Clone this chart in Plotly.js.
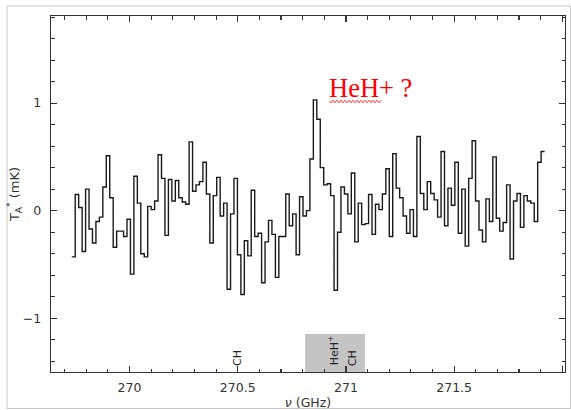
<!DOCTYPE html>
<html>
<head>
<meta charset="utf-8">
<script src="https://cdn.plot.ly/plotly-3.0.1.min.js"></script>
<style>
  html, body { margin: 0; padding: 0; background: #fff; }
  #chart { width: 571px; height: 410px; }
</style>
</head>
<body>
<div id="chart"></div>
<script>
// Spectrum: antenna temperature per channel (mK), left to right
const freqStartGHz = 269.733;   // left edge of first channel
const chanWidthGHz = 0.01595;   // channel width
const tA = [
  -0.43, 0.15, 0.03, -0.38, 0.20, -0.17, -0.30, -0.10, -0.06, 0.22,
  0.51, 0.12, -0.34, -0.19, -0.19, -0.24, -0.08, -0.59, 0.32, 0.07,
  -0.40, -0.43, 0.04, 0.01, 0.09, 0.52, 0.30, -0.23, 0.29, 0.09,
  0.28, 0.12, 0.08, 0.06, 0.64, 0.18, 0.24, 0.27, 0.45, 0.155,
  -0.30, 0.14, 0.31, -0.05, 0.07, -0.73, -0.03, 0.30, -0.41, -0.78,
  -0.28, -0.42, 0.19, -0.24, -0.21, -0.67, -0.29, -0.09, -0.22, -0.62,
  -0.24, -0.24, 0.155, -0.14, -0.03, -0.41, 0.13, -0.05, 0.00, 0.48,
  1.03, 0.85, 0.40, 0.24, 0.25, 0.14, -0.74, -0.20, 0.22, 0.155,
  -0.03, 0.35, -0.29, 0.07, -0.13, -0.12, 0.15, -0.22, 0.06, 0.01,
  0.155, 0.39, -0.24, 0.53, 0.21, 0.12, -0.05, -0.21, 0.01, -0.24,
  0.69, 0.16, 0.01, 0.27, 0.16, 0.10, -0.06, 0.55, -0.14, 0.21,
  0.05, 0.45, -0.21, 0.20, -0.33, 0.30, 0.65, 0.09, -0.18, -0.29,
  0.11, -0.10, 0.50, -0.07, -0.19, -0.11, 0.24, -0.45, 0.09, 0.16,
  -0.155, 0.14, 0.09, 0.07, -0.10, 0.45, 0.55
];
// Line identifications (GHz) and labels
const lineFreqs = [270.499, 270.942, 271.031];
const lineLabels = ["CH", "HeH<sup>+</sup>", "CH"];
// Shaded window (GHz)
const bandGHz = [270.811, 271.088];
const bandTop = -1.147;
const xTickVals = [270, 270.5, 271, 271.5, 272];
const xTickText = ["270", "270.5", "271", "271.5", "272"];
const yTickVals = [-1, 0, 1];
const yTickText = ["\u22121", "0", "1"];

// channel edges for a histogram-style step line
const xs = [], ys = [];
for (let i = 0; i <= tA.length; i++) {
  xs.push(freqStartGHz + i * chanWidthGHz);
  ys.push(tA[Math.min(i, tA.length - 1)]);
}

const W = 571, H = 410;
const m = {l: 51, r: 6, t: 16, b: 38};
const pw = W - m.l - m.r, ph = H - m.t - m.b;
const px = v => (v - m.l) / pw;
const py = v => (H - m.b - v) / ph;

// wavy underline under the red note
let squig = "M" + px(329).toFixed(4) + "," + py(101.5).toFixed(4);
for (let k = 1, xx = 331; xx <= 381; xx += 2, k++) {
  squig += " L" + px(xx).toFixed(4) + "," + py(101.5 + (k % 2 ? 1.3 : -1.3)).toFixed(4);
}

const axisCommon = {
  showline: true, linecolor: "#333", linewidth: 1.4, mirror: "allticks",
  ticks: "inside", ticklen: 6, tickwidth: 1.2, tickcolor: "#333",
  showgrid: false, zeroline: false,
  tickfont: {family: "DejaVu Sans", size: 12.5, color: "#333"}
};

const data = [{
  x: xs, y: ys, type: "scatter", mode: "lines",
  line: {shape: "hv", color: "#1a1a1a", width: 1.4},
  hoverinfo: "skip"
}];

const annotations = lineFreqs.map((f, i) => ({
  x: f, xref: "x", y: i === 1 ? py(350) : py(358.5), yref: "paper",
  text: lineLabels[i], showarrow: false, textangle: -90,
  font: {family: "DejaVu Sans", size: 11, color: "#222"},
  xanchor: "center", yanchor: "middle"
}));
annotations.push({
  x: px(327), xref: "paper", y: py(87.5), yref: "paper",
  text: "HeH+ ?", showarrow: false, xanchor: "left", yanchor: "middle",
  font: {family: "Liberation Serif", size: 26.5, color: "#ff0000"}
});

const layout = {
  width: W, height: H, margin: m,
  paper_bgcolor: "#fff", plot_bgcolor: "#fff",
  showlegend: false,
  xaxis: Object.assign({}, axisCommon, {
    range: [269.637, 272.0125],
    tickvals: xTickVals, ticktext: xTickText,
    ticklabelstandoff: 4,
    minor: {dtick: 0.1, tick0: 270, ticks: "inside", ticklen: 3.5, tickwidth: 1.1, tickcolor: "#333"},
    title: {text: "<i>\u03bd</i> (GHz)", font: {family: "DejaVu Sans", size: 12.5, color: "#333"}, standoff: 6}
  }),
  yaxis: Object.assign({}, axisCommon, {
    range: [-1.5, 1.81],
    tickvals: yTickVals, ticktext: yTickText,
    ticklabelstandoff: 6,
    minor: {dtick: 0.2, tick0: 0, ticks: "inside", ticklen: 3.5, tickwidth: 1.1, tickcolor: "#333"},
    title: {text: "T<sub>A</sub><sup>*</sup> (mK)", font: {family: "DejaVu Sans", size: 13, color: "#333"}, standoff: 0}
  }),
  shapes: [
    {type: "rect", xref: "x", yref: "y", x0: bandGHz[0], x1: bandGHz[1], y0: -1.5, y1: bandTop,
     fillcolor: "#c4c4c4", line: {width: 0}, layer: "below"},
    {type: "rect", xref: "paper", yref: "paper", x0: px(7), x1: px(570.5), y0: py(408.5), y1: py(6),
     fillcolor: "rgba(0,0,0,0)", line: {color: "#c8c8c8", width: 1}, layer: "below"},
    {type: "path", xref: "paper", yref: "paper", path: squig, line: {color: "#ff3030", width: 1}}
  ],
  annotations: annotations
};

Plotly.newPlot("chart", data, layout, {displayModeBar: false, staticPlot: true});
</script>
</body>
</html>
